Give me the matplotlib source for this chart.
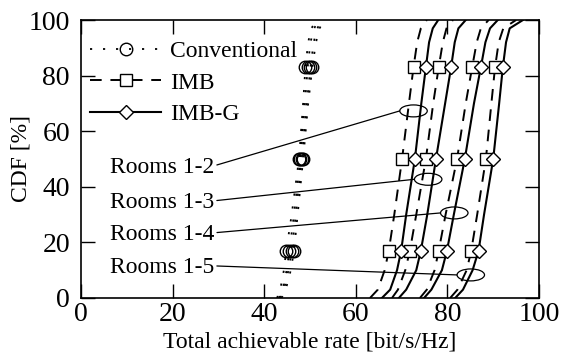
import numpy as np
import matplotlib
matplotlib.use("Agg")
import matplotlib.pyplot as plt
from matplotlib.patches import Ellipse

plt.rcParams['font.family'] = ['Liberation Serif', 'DejaVu Serif']

# CDF levels [%] and rate read at each level [bit/s/Hz]
cdf = [0, 3, 10, 17, 30, 50, 70, 83, 92, 97, 100]

conv = {
    "1-2": [42.8, 43.5, 44.3, 44.8, 46.0, 47.6, 48.5, 49.0, 49.6, 50.3, 51.5],
    "1-3": [43.2, 44.0, 44.9, 45.5, 46.5, 47.9, 48.9, 49.5, 50.1, 50.9, 52.0],
    "1-4": [43.5, 44.3, 45.3, 46.0, 46.9, 48.2, 49.3, 50.1, 50.8, 51.6, 52.6],
    "1-5": [43.8, 44.7, 45.8, 46.5, 47.3, 48.5, 49.6, 50.5, 51.3, 52.1, 53.0],
}
imb = {
    "1-2": [63.1, 64.8, 66.3, 67.2, 68.4, 70.1, 71.6, 72.6, 73.4, 74.2, 75.5],
    "1-3": [67.9, 69.2, 70.8, 71.8, 73.2, 75.3, 76.9, 78.1, 79.0, 79.8, 81.2],
    "1-4": [74.0, 75.5, 77.2, 78.1, 79.6, 82.1, 84.0, 85.4, 86.4, 87.3, 89.0],
    "1-5": [80.6, 82.2, 84.2, 85.2, 86.5, 88.4, 89.6, 90.4, 91.2, 92.2, 95.0],
}
imb_g = {
    "1-2": [65.7, 67.5, 69.0, 69.9, 71.0, 72.9, 74.3, 75.3, 76.0, 76.8, 78.0],
    "1-3": [69.4, 71.0, 73.2, 74.2, 75.6, 77.5, 79.5, 80.8, 81.6, 82.4, 84.0],
    "1-4": [74.9, 76.5, 78.8, 79.9, 81.4, 83.8, 85.8, 87.3, 88.3, 89.3, 91.0],
    "1-5": [81.7, 83.4, 85.5, 86.8, 88.0, 90.0, 91.3, 92.1, 92.8, 93.6, 96.5],
}
mark_idx = [3, 5, 7]  # markers at 17, 50, 83 %

# room labels: text position and ellipse (center, size)
room_names = ["Rooms 1-2", "Rooms 1-3", "Rooms 1-4", "Rooms 1-5"]
label_xy = [(6.3, 46.8), (6.3, 34.2), (6.3, 22.7), (6.3, 10.8)]
ell_center = [(72.6, 67.3), (75.8, 42.7), (81.5, 30.6), (85.1, 8.3)]
ell_w, ell_h = 6.0, 4.3

fig = plt.figure(figsize=(5.64, 3.54), dpi=100)
ax = fig.add_axes([0.1436, 0.1582, 0.8121, 0.7853])

for i, k in enumerate(conv):
    ax.plot(conv[k], cdf, color='black', lw=1.3, dashes=(1.2, 6),
            marker='o', ms=9, mfc='none', mew=1.0, markevery=mark_idx,
            label='Conventional' if i == 0 else None)
for i, k in enumerate(imb):
    ax.plot(imb[k], cdf, color='black', lw=1.4, dashes=(6, 4.5),
            marker='s', ms=9, mfc='white', mew=1.0, markevery=mark_idx,
            label='IMB' if i == 0 else None)
for i, k in enumerate(imb_g):
    ax.plot(imb_g[k], cdf, color='black', lw=1.5, linestyle='-',
            marker='D', ms=7, mfc='white', mew=1.0, markevery=mark_idx,
            label='IMB-G' if i == 0 else None)

for name, txy, c in zip(room_names, label_xy, ell_center):
    ax.add_patch(Ellipse(c, ell_w, ell_h, fill=False, lw=0.9, color='black'))
    ax.annotate(name, xy=(c[0] - ell_w / 2, c[1]), xytext=txy,
                ha='left', va='center', fontsize=17,
                arrowprops=dict(arrowstyle='-', lw=0.9, color='black',
                                shrinkA=0, shrinkB=0, relpos=(1, 0.6)))

ax.set_xlim(0, 100)
ax.set_ylim(0, 100)
ax.set_xticks([0, 20, 40, 60, 80, 100])
ax.set_yticks([0, 20, 40, 60, 80, 100])
ax.tick_params(direction='in', length=10, width=1.0, labelsize=20,
               top=True, right=True)
ax.tick_params(axis='x', pad=3)
ax.tick_params(axis='y', pad=8)
for s in ax.spines.values():
    s.set_linewidth(1.2)

ax.set_xlabel('Total achievable rate [bit/s/Hz]', fontsize=17, labelpad=3)
ax.set_ylabel('CDF [%]', fontsize=17, labelpad=-2)

ax.legend(loc='upper left', bbox_to_anchor=(0.02, 0.926), frameon=False,
          fontsize=17, handlelength=3.0, handletextpad=0.4,
          labelspacing=0.42, borderpad=0, borderaxespad=0, numpoints=1)

fig.savefig('out.png', dpi=100)
